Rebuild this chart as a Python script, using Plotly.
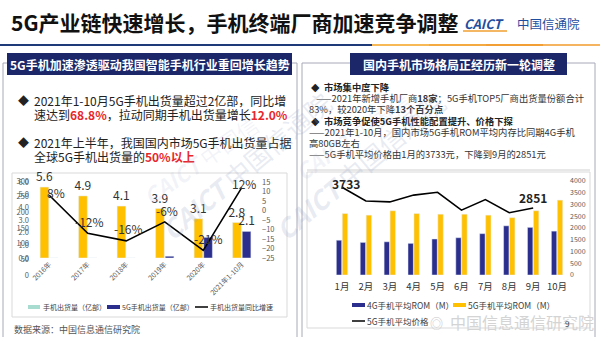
import plotly.graph_objects as go

W, H = 600, 337
def X(px): return px / W
def Y(py): return 1 - py / H

# ---------------- data ----------------
years = ["2016年", "2017年", "2018年", "2019年", "2020年", "2021年1-10月"]
total_ship = [5.6, 4.9, 4.1, 3.9, 3.1, 2.8]          # 手机出货量（亿部）
ship_5g = [0, 0, 0, 0.14, 1.63, 2.1]                 # 5G手机出货量（亿部）
yoy_growth = [8, -12, -16, -6, -21, 12]              # 手机出货量同比增速 (%)

months = ["1月", "2月", "3月", "4月", "5月", "6月", "7月", "8月", "9月", "10月"]
rom_4g = [111, 104, 106, 101, 115, 119, 132, 157, 152, 140]
rom_5g = [196, 191, 205, 196, 194, 194, 191, 183, 205, 239]
price_5g = [3733, 3150, 3110, 3400, 3520, 2760, 3210, 2650, 2851]

left_ticks = [0, 1, 2, 3, 4, 5, 6]
right_pct_ticks = [-25, -20, -15, -10, -5, 0, 5, 10, 15]

# ---------------- style ----------------
FONT = "Noto Sans CJK SC"
NAVY = "#2B2E8C"
YELLOW = "#FFC000"
HEAD = "#1B2768"
BORDER = "#A8A8B8"
TICK = "#595959"

fig = go.Figure()

# left chart
fig.add_trace(go.Bar(x=years, y=total_ship, marker_color=YELLOW, xaxis="x", yaxis="y",
                     text=[f"{v:.1f}" for v in total_ship], textposition="outside", constraintext="none",
                     textfont=dict(size=12, color="#333", family=FONT), cliponaxis=False, showlegend=False))
fig.add_trace(go.Bar(x=years, y=ship_5g, marker_color=NAVY, xaxis="x", yaxis="y",
                     text=["" if i < len(ship_5g) - 1 else f"{v:.1f}" for i, v in enumerate(ship_5g)],
                     textposition="outside", constraintext="none",
                     textfont=dict(size=12, color="#333", family=FONT),
                     cliponaxis=False, showlegend=False))
fig.add_trace(go.Scatter(x=years, y=yoy_growth, mode="lines", line=dict(color="black", width=1.6),
                         xaxis="x", yaxis="y2", showlegend=False))

# right chart
fig.add_trace(go.Bar(x=months, y=rom_4g, marker_color=NAVY, xaxis="x2", yaxis="y3", showlegend=False))
fig.add_trace(go.Bar(x=months, y=rom_5g, marker_color=YELLOW, xaxis="x2", yaxis="y3", showlegend=False))
fig.add_trace(go.Scatter(x=months[:len(price_5g)], y=price_5g, mode="lines",
                         line=dict(color="black", width=1.6), xaxis="x2", yaxis="y4", showlegend=False))

ann = []
shapes = []

# line labels (left)
pct_shift = [(7, 3), (2, 12), (2, 12), (2, 11), (5, 12), (2, 4)]
for i, v in enumerate(yoy_growth):
    ann.append(dict(x=years[i], y=v, xref="x", yref="y2", text=f"{v}%", showarrow=False,
                    xshift=pct_shift[i][0], yshift=pct_shift[i][1],
                    font=dict(size=12, color="#333", family=FONT)))
# price labels (right)
for i, sh in [(0, (4, 4)), (len(price_5g) - 1, (0, 11))]:
    ann.append(dict(x=months[i], y=price_5g[i], xref="x2", yref="y4", text=f"<b>{price_5g[i]}</b>",
                    showarrow=False, xshift=sh[0], yshift=sh[1],
                    font=dict(size=12, color="#222", family=FONT)))

def txt(x, y, s, size, color="#222", anchor="left", bold=False, **kw):
    ann.append(dict(x=X(x), y=Y(y), xref="paper", yref="paper", text=(f"<b>{s}</b>" if bold else s),
                    showarrow=False, xanchor=anchor, yanchor="middle",
                    font=dict(size=size, color=color, family=FONT), **kw))

def rect(x0, y0, x1, y1, fill=None, line=None, lw=1):
    shapes.append(dict(type="rect", xref="paper", yref="paper", x0=X(x0), x1=X(x1), y0=Y(y1), y1=Y(y0),
                       fillcolor=fill or "rgba(0,0,0,0)", line=dict(color=line or "rgba(0,0,0,0)", width=lw),
                       layer="below"))

def hline(x0, x1, y, color, w=1):
    shapes.append(dict(type="line", xref="paper", yref="paper", x0=X(x0), x1=X(x1), y0=Y(y), y1=Y(y),
                       line=dict(color=color, width=w)))

# title
txt(9, 22, "5G产业链快速增长，手机终端厂商加速竞争调整", 21, "#111", bold=True)
txt(462, 23, "<b><i>CAICT</i></b>", 13, "#1F4E9E")
txt(515, 23, "中国信通院", 12.5, "#1F4E9E")
hline(463, 507, 31, "#F0A030", 1.5)
# title rule: navy then orange
hline(0, 372, 45, "#1F3A78", 2)
for k, c in enumerate(["#F7B955", "#F4AA40", "#F2A035", "#F5B560"]):
    hline(372 + k * 57, 372 + (k + 1) * 57, 45, c, 2)

# panels
rect(3, 63, 297, 340, line=BORDER)
rect(302, 63, 595, 340, line=BORDER)
rect(7, 53, 292, 75, fill=HEAD)
rect(350, 53, 567, 75, fill=HEAD)
txt(149.5, 64, "5G手机加速渗透驱动我国智能手机行业重回增长趋势", 12, "white", anchor="center", bold=True)
txt(458.5, 64, "国内手机市场格局正经历新一轮调整", 12, "white", anchor="center", bold=True)

# left text
RED = "#E8262B"
txt(16, 100, "◆", 11, "#222")
txt(32, 100, "2021年1-10月5G手机出货量超过2亿部，同比增", 12, "#222")
txt(32, 114, f"速达到<b><span style='color:{RED}'>68.8%</span></b>，拉动同期手机出货量增长<b><span style='color:{RED}'>12.0%</span></b>", 12, "#222")
txt(16, 142, "◆", 11, "#222")
txt(32, 142, "2021年上半年，我国国内市场5G手机出货量占据", 12, "#222")
txt(32, 156, f"全球5G手机出货量的<b><span style='color:{RED}'>50%以上</span></b>", 12, "#222")

# right text
ry = [87 + 11.2 * i for i in range(7)]
txt(309, ry[0], "◆", 8.5, "#222")
txt(322, ry[0], "市场集中度下降", 9.3, "#222", bold=True)
txt(314, ry[1], "——2021年新增手机厂商<b>18家</b>；5G手机TOP5厂商出货量份额合计", 9.3, "#333")
txt(307, ry[2], "83%，较2020年下降<b>13个百分点</b>", 9.3, "#333")
txt(309, ry[3], "◆", 8.5, "#222")
txt(322, ry[3], "市场竞争促使5G手机性能配置提升、价格下探", 9.3, "#222", bold=True)
txt(307, ry[4], "——2021年1-10月，国内市场5G手机ROM平均内存比同期4G手机", 9.3, "#333")
txt(307, ry[5], "高80GB左右", 9.3, "#333")
txt(307, ry[6], "——5G手机平均价格由1月的3733元，下降到9月的2851元", 9.3, "#333")

# chart boxes
rect(12, 173, 287, 317, line="#D9D9D9")
rect(307, 172, 590, 328, line="#D9D9D9")
hline(307, 590, 170, "#D0D0D0", 1)

# watermarks
WM = "rgba(150,165,200,0.22)"
ann.append(dict(x=X(150), y=Y(250), xref="paper", yref="paper", text="<b><i>CAICT</i></b> 中国信通院",
                showarrow=False, textangle=-40, font=dict(size=26, color=WM, family=FONT)))
ann.append(dict(x=X(455), y=Y(250), xref="paper", yref="paper", text="<b><i>CAICT</i></b> 中国信通院",
                showarrow=False, textangle=-40, font=dict(size=26, color=WM, family=FONT)))
ann.append(dict(x=X(200), y=Y(105), xref="paper", yref="paper", text="<b><i>CAICT</i></b> 中国信",
                showarrow=False, textangle=-35, font=dict(size=22, color="rgba(150,165,200,0.12)", family=FONT)))
ann.append(dict(x=X(420), y=Y(135), xref="paper", yref="paper", text="<b><i>CAICT</i></b> 中国信",
                showarrow=False, textangle=-35, font=dict(size=22, color="rgba(150,165,200,0.12)", family=FONT)))

# left legend
shapes.append(dict(type="rect", xref="paper", yref="paper", x0=X(28), x1=X(40), y0=Y(309), y1=Y(305),
                   fillcolor="#A9DCD0", line=dict(width=0)))
txt(41, 307, "手机出货量（亿部）", 7, "#404040")
shapes.append(dict(type="rect", xref="paper", yref="paper", x0=X(107), x1=X(120), y0=Y(309), y1=Y(305),
                   fillcolor=NAVY, line=dict(width=0)))
txt(120, 307, "5G手机出货量（亿部）", 7, "#404040")
hline(195, 208, 307, "black", 1.5)
txt(208, 307, "手机出货量同比增速", 7, "#404040")
txt(12, 329, "数据来源：中国信息通信研究院", 9, "#555")

# right legend
shapes.append(dict(type="rect", xref="paper", yref="paper", x0=X(352), x1=X(365), y0=Y(307), y1=Y(303),
                   fillcolor=NAVY, line=dict(width=0)))
txt(365, 305, "4G手机平均ROM（M）", 8.5, "#404040")
shapes.append(dict(type="rect", xref="paper", yref="paper", x0=X(453), x1=X(466), y0=Y(307), y1=Y(303),
                   fillcolor=YELLOW, line=dict(width=0)))
txt(466, 305, "5G手机平均ROM（M）", 8.5, "#404040")
hline(352, 365, 321, "black", 1.5)
txt(365, 321, "5G手机平均价格", 8.5, "#404040")

# weibo watermark
txt(428, 322, "◎", 13, "#C8C8C8")
txt(448, 322, "中国信息通信研究院", 16, "#D4D4D4")
txt(567, 323, "9", 8, "#444", anchor="center")

tickf = dict(size=7.5, color=TICK, family=FONT)
fig.update_layout(
    width=W, height=H, margin=dict(l=0, r=0, t=0, b=0), autosize=False,
    paper_bgcolor="white", plot_bgcolor="rgba(0,0,0,0)",
    barmode="group", bargap=0.5, bargroupgap=0.1,
    font=dict(family=FONT),
    xaxis=dict(domain=[X(30), X(261)], anchor="y", tickangle=-45, tickfont=dict(size=7, color=TICK, family=FONT),
               showgrid=False, showline=False, ticks="", automargin=False),
    yaxis=dict(domain=[Y(258), Y(182)], range=[0, 6], tickvals=left_ticks, tickformat=".1f", tickfont=tickf,
               showgrid=False, zeroline=False, automargin=False),
    yaxis2=dict(overlaying="y", anchor="x", side="right", range=[-25, 15], tickvals=right_pct_ticks,
                ticksuffix="%", tickfont=tickf, showgrid=False, zeroline=False, automargin=False),
    xaxis2=dict(domain=[X(330), X(569)], anchor="y3", tickfont=dict(size=9.5, color="#333", family=FONT),
                showgrid=False, showline=False, ticks="", automargin=False, ticklabelstandoff=4),
    yaxis3=dict(domain=[Y(275), Y(181)], range=[0, 300], dtick=50, tickfont=tickf,
                showgrid=False, zeroline=False, automargin=False),
    yaxis4=dict(overlaying="y3", anchor="x2", side="right", range=[0, 4000], dtick=500,
                tickfont=dict(size=7, color=TICK, family=FONT), showgrid=False, zeroline=False, automargin=False),
    annotations=ann, shapes=shapes,
)

fig.write_html("out.html")
